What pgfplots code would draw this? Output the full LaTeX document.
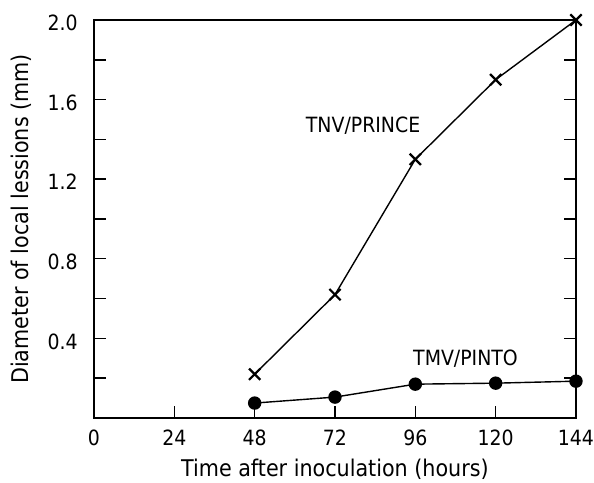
\documentclass[border=0pt]{standalone}
\usepackage{fontspec}
\setmainfont{DejaVu Sans Condensed}
\usepackage{pgfplots}
\pgfplotsset{compat=1.18}

\begin{document}
\fontsize{11.5}{13}\selectfont
\begin{tikzpicture}
\begin{axis}[
	scale only axis,
	width=241pt, height=199pt,
	xmin=0, xmax=144, ymin=0, ymax=2.0,
	xtick={0,24,48,72,96,120,144},
	ytick={0.4,0.8,1.2,1.6,2.0},
	minor ytick={0.2,0.6,1.0,1.4,1.8},
	xtick pos=bottom, ytick pos=both,
	tick align=inside,
	major tick length=6pt, minor tick length=6pt,
	every tick/.style={black, line width=0.7pt},
	tick label style={font=\fontsize{10.5}{12}\selectfont, inner sep=0pt},
	/pgf/number format/assume math mode=true,
	yticklabel style={/pgf/number format/fixed, /pgf/number format/precision=1, /pgf/number format/fixed zerofill, anchor=east, xshift=-8pt, yshift=-1.5pt},
	xticklabel style={anchor=north, yshift=-6pt},
	xlabel={Time after inoculation (hours)},
	ylabel={Diameter of local lessions (mm)},
	xlabel style={at={(axis description cs:0.5,0)}, anchor=north, inner sep=0pt, yshift=-20.5pt},
	ylabel style={at={(axis description cs:0,0.5)}, anchor=south, inner sep=0pt, yshift=31pt},
	axis line style={line width=0.8pt},
	clip=false,
]
\addplot[black, line width=0.7pt, mark=x, mark size=4pt, mark options={line width=1.1pt}]
coordinates {
	(48,0.22)
	(72,0.62)
	(96,1.30)
	(120,1.70)
	(144,2.00)
};
\addplot[black, line width=0.7pt, mark=*, mark size=3pt]
coordinates {
	(48,0.075)
	(72,0.105)
	(96,0.170)
	(120,0.175)
	(144,0.185)
};
\node[font=\fontsize{10.5}{12}\selectfont] at (axis cs:80.4,1.47) {TNV/PRINCE};
\node[font=\fontsize{10.5}{12}\selectfont] at (axis cs:111,0.30) {TMV/PINTO};
\path (rel axis cs:0,1) -- ++(0,10pt);
\path (rel axis cs:0,0) -- ++(0,-32.5pt);
\path (rel axis cs:0,0.5) -- ++(-47pt,0);
\end{axis}
\end{tikzpicture}
\end{document}
